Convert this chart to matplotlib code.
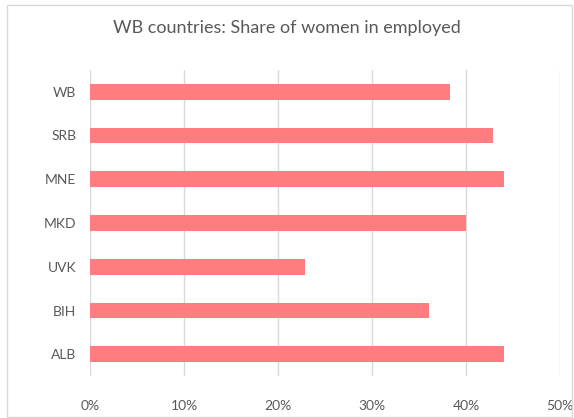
import matplotlib.pyplot as plt
from matplotlib.patches import Rectangle
from matplotlib.ticker import PercentFormatter

plt.rcParams['font.family'] = ['Lato', 'DejaVu Sans']

countries = ["ALB", "BIH", "UVK", "MKD", "MNE", "SRB", "WB"]
share_women = [44.0, 36.0, 22.9, 40.0, 44.0, 42.9, 38.3]

fig = plt.figure(figsize=(5.74, 4.18), dpi=100)
ax = fig.add_axes([0.157, 0.100, 0.819, 0.733])

ax.barh(countries, share_women, height=0.36, color="#FF7C80", zorder=3)

ax.set_xlim(0, 50)
ax.set_ylim(-0.5, len(countries) - 0.5)
ax.set_xticks(range(0, 51, 10))
ax.xaxis.set_major_formatter(PercentFormatter(decimals=0))
ax.grid(axis="x", color="#D9D9D9", linewidth=1, zorder=0)
ax.tick_params(length=0, labelsize=10, colors="#595959", pad=10)
ax.tick_params(axis="x", pad=17)
for s in ax.spines.values():
    s.set_visible(False)

fig.text(0.5, 0.932, "WB countries: Share of women in employed",
         ha="center", va="center", fontsize=13, color="#595959")

# light border around the whole chart
fig.patches.append(Rectangle((0.012, 0.003), 0.985, 0.985, transform=fig.transFigure,
                             fill=False, edgecolor="#D9D9D9", linewidth=1))

fig.savefig("out.png", dpi=100)
